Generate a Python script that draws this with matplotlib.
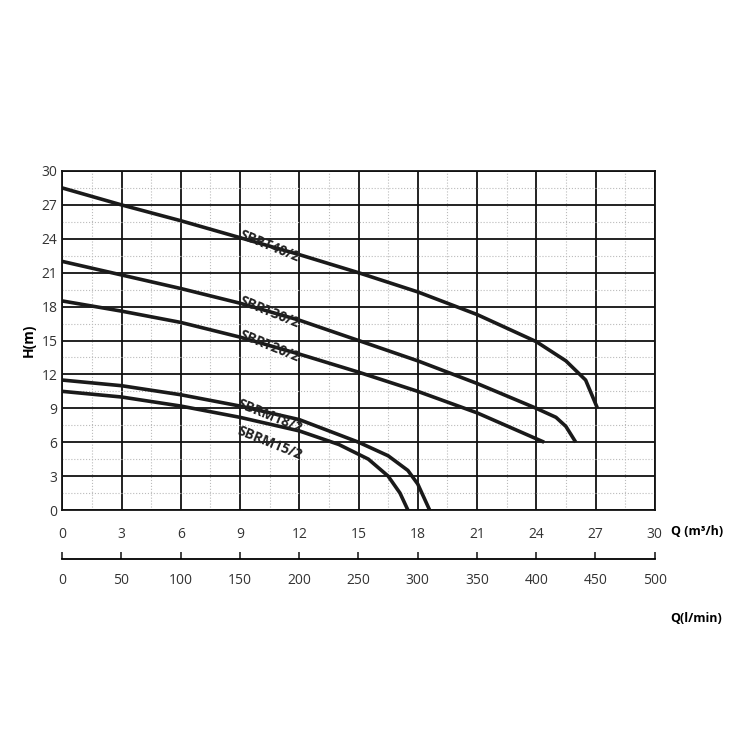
import numpy as np
import matplotlib
matplotlib.use("Agg")
import matplotlib.pyplot as plt
from matplotlib.ticker import MultipleLocator

plt.rcParams['font.family'] = ['Open Sans', 'DejaVu Sans']

# pump curves: Q (m3/h), H (m)
q_t40 = [0, 3, 6, 9, 12, 15, 18, 21, 24, 25.5, 26.5, 27.1]
h_t40 = [28.5, 27, 25.6, 24.1, 22.6, 21, 19.3, 17.3, 14.9, 13.2, 11.5, 9]
q_t30 = [0, 3, 6, 9, 12, 15, 18, 21, 24, 25, 25.5, 26]
h_t30 = [22, 20.8, 19.6, 18.3, 16.8, 15, 13.2, 11.2, 9.0, 8.2, 7.4, 6.0]
q_t20 = [0, 3, 6, 9, 12, 15, 18, 21, 24.4]
h_t20 = [18.5, 17.6, 16.6, 15.3, 13.8, 12.2, 10.5, 8.6, 6.0]
q_m18 = [0, 3, 6, 9, 12, 15, 16.5, 17.5, 18, 18.6]
h_m18 = [11.5, 11, 10.2, 9.2, 8, 6, 4.8, 3.5, 2.3, 0]
q_m15 = [0, 3, 6, 9, 12, 14, 15.5, 16.5, 17.1, 17.5]
h_m15 = [10.5, 10, 9.2, 8.2, 7, 5.8, 4.5, 3, 1.5, 0]

curves = [(q_t40, h_t40, "SBRT40/2", (10.5, 23.3)),
          (q_t30, h_t30, "SBRT30/2", (10.5, 17.5)),
          (q_t20, h_t20, "SBRT20/2", (10.5, 14.5)),
          (q_m18, h_m18, "SBRM18/2", (10.5, 8.3)),
          (q_m15, h_m15, "SBRM15/2", (10.5, 5.9))]

fig = plt.figure(figsize=(7.5, 7.5), dpi=100)
ax = fig.add_axes([0.083, 0.32, 0.79, 0.452])
ax.set_xlim(0, 30)
ax.set_ylim(0, 30)
ax.xaxis.set_major_locator(MultipleLocator(3))
ax.yaxis.set_major_locator(MultipleLocator(3))
ax.xaxis.set_minor_locator(MultipleLocator(1.5))
ax.yaxis.set_minor_locator(MultipleLocator(1.5))
ax.grid(which="major", color="#111111", lw=1.3)
ax.grid(which="minor", color="#bbbbbb", lw=0.8, ls=":")
ax.tick_params(which="both", length=0, labelsize=10, colors="#333333")
ax.tick_params(axis="x", pad=12)
for s in ax.spines.values():
    s.set_color("#111111")
    s.set_linewidth(1.3)

for q, h, name, (lx, ly) in curves:
    ax.plot(q, h, color="#1a1a1a", lw=2.6, solid_capstyle="butt")
    ax.text(lx, ly, name, rotation=-22, ha="center", va="center",
            fontsize=10, fontweight="bold", color="#222222")

ax.set_ylabel("H(m)", fontsize=10, fontweight="bold")
ax.text(30.8, -1.9, "Q (m³/h)", fontsize=9, fontweight="bold", va="center")

# second flow axis in l/min
ax2 = ax.twiny()
ax2.set_xlim(0, 500)
ax2.xaxis.set_ticks_position("bottom")
ax2.xaxis.set_label_position("bottom")
ax2.spines["bottom"].set_position(("outward", 35))
for k in ["top", "left", "right"]:
    ax2.spines[k].set_visible(False)
ax2.spines["bottom"].set_linewidth(1.3)
ax2.xaxis.set_major_locator(MultipleLocator(50))
ax2.tick_params(axis="x", direction="in", length=5, width=1.3,
                labelsize=10, colors="#333333", pad=10)
ax.text(30.8, -9.6, "Q(l/min)", fontsize=9, fontweight="bold", va="center",
        clip_on=False)

fig.savefig("out.png", dpi=100)
